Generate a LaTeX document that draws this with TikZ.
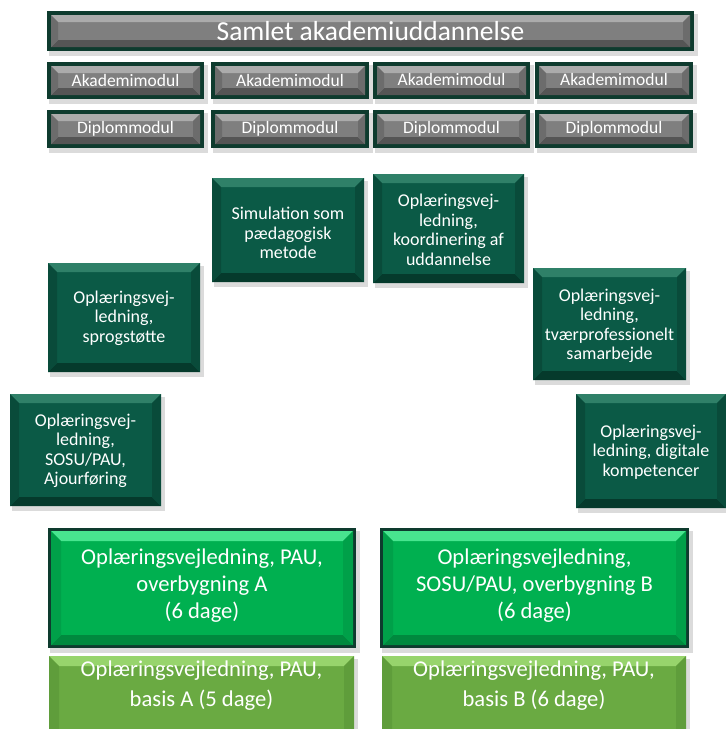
\documentclass[tikz,border=0pt]{standalone}
\usepackage{fontspec}
\setmainfont{Carlito}
\definecolor{frm}{HTML}{0E3B2E}
\definecolor{grmain}{HTML}{7F7F7F}
\definecolor{grlight}{HTML}{ABABAB}
\definecolor{grdark}{HTML}{555555}
\definecolor{grside}{HTML}{6C6C6C}
\definecolor{dgmain}{HTML}{0B5A46}
\definecolor{dglight}{HTML}{2F8068}
\definecolor{dgdark}{HTML}{053A2C}
\definecolor{dgside}{HTML}{094B3A}
\definecolor{bgmain}{HTML}{00B050}
\definecolor{bglight}{HTML}{48E58F}
\definecolor{bgdark}{HTML}{00893E}
\definecolor{bgside}{HTML}{00A049}
\definecolor{lgmain}{HTML}{6AAA42}
\definecolor{lglight}{HTML}{97D46C}
\definecolor{lgdark}{HTML}{4F8A2F}
\definecolor{lgside}{HTML}{5F9D3B}
\def\grbev{7}\def\dgbev{9}\def\bgbev{10}\def\lgbev{10}
\tikzset{
  txt/.style={text=white,align=center,inner sep=0pt},
  ttitle/.style={txt,font=\fontsize{27.5}{30}\selectfont},
  tmod/.style={txt,font=\fontsize{17.5}{20}\selectfont},
  tsmall/.style={txt,font=\fontsize{18}{19.5}\selectfont},
  tbig/.style={txt,font=\fontsize{22.6}{27}\selectfont},
  tbasis/.style={txt,font=\fontsize{22.6}{30}\selectfont},
}
\newcommand\shad[4]{\fill[black,opacity=.14] ({#1+2},{#2+3}) rectangle ({#3+4},{#4+5});}
\newcommand\frameb[5]{\fill[#5] (#1,#2) rectangle (#3,#4);}
\newcommand\bx[9]{%
 \edef\bvw{\csname #6bev\endcsname}%
 \fill[#6main] (#2,#3) rectangle (#4,#5);
 \fill[#6light] (#2,#3) -- (#4,#3) -- ({#4-\bvw},{#3+\bvw}) -- ({#2+\bvw},{#3+\bvw}) -- cycle;
 \fill[#6dark] (#2,#5) -- (#4,#5) -- ({#4-\bvw},{#5-\bvw}) -- ({#2+\bvw},{#5-\bvw}) -- cycle;
 \fill[#6side] (#2,#3) -- ({#2+\bvw},{#3+\bvw}) -- ({#2+\bvw},{#5-\bvw}) -- (#2,#5) -- cycle;
 \fill[#6side] (#4,#3) -- ({#4-\bvw},{#3+\bvw}) -- ({#4-\bvw},{#5-\bvw}) -- (#4,#5) -- cycle;
 \node[#8] (#1) at ({(#2+#4)/2},#7) {#9};
}
% gray framed module box: name, x1, y1, x2, y2, text y, text
\newcommand\gbox[7]{%
 \shad{#2}{#3}{#4}{#5}\frameb{#2}{#3}{#4}{#5}{frm}%
 \bx{#1}{#2+4}{#3+4}{#4-4}{#5-4}{gr}{#6}{tmod}{#7}}
\begin{document}
\begin{tikzpicture}[x=1pt,y=-1pt]
\useasboundingbox (0,0) rectangle (726,729);
% title
\shad{47}{11}{694}{51}\frameb{47}{11}{694}{51}{frm}
\bx{title}{51}{15}{690}{47}{gr}{31}{ttitle}{Samlet akademiuddannelse}
% module rows
\gbox{ak1}{47}{62}{204}{99}{80}{Akademimodul}
\gbox{ak2}{211}{62}{369}{99}{80}{Akademimodul}
\gbox{ak3}{373}{62}{530}{99}{79}{Akademimodul}
\gbox{ak4}{535}{62}{693}{99}{79}{Akademimodul}
\gbox{dp1}{47}{110}{204}{148}{129}{Diplommodul}
\gbox{dp2}{211}{110}{369}{148}{129}{Diplommodul}
\gbox{dp3}{373}{110}{530}{148}{129}{Diplommodul}
\gbox{dp4}{535}{110}{693}{148}{129}{Diplommodul}
% dark green boxes
\shad{212}{178}{364}{282}
\bx{sim}{212}{178}{364}{282}{dg}{233}{tsmall}{Simulation som\\pædagogisk\\metode}
\shad{373}{174}{524}{283}
\bx{koord}{373}{174}{524}{283}{dg}{230}{tsmall}{Oplæringsvej-\\ledning,\\koordinering af\\uddannelse}
\shad{48}{263}{200}{372}
\bx{sprog}{48}{263}{200}{372}{dg}{318}{tsmall}{Oplæringsvej-\\ledning,\\sprogstøtte}
\shad{533}{268}{686}{380}
\bx{tvaer}{533}{268}{686}{380}{dg}{326}{tsmall}{Oplæringsvej-\\ledning,\\tværprofessionelt\\samarbejde}
\shad{10}{394}{161}{506}
\bx{ajour}{10}{394}{161}{506}{dg}{451}{tsmall}{Oplæringsvej-\\ledning,\\SOSU/PAU,\\Ajourføring}
\shad{576}{394}{726}{508}
\bx{digi}{576}{394}{726}{508}{dg}{452}{tsmall}{Oplæringsvej-\\ledning, digitale\\kompetencer}
% bright green boxes
\shad{48}{528}{356}{648}\frameb{48}{528}{356}{648}{frm}
\bx{overA}{51}{531}{353}{645}{bg}{586}{tbig}{Oplæringsvejledning, PAU,\\overbygning A\\(6 dage)}
\shad{380}{528}{689}{648}\frameb{380}{528}{689}{648}{frm}
\bx{overB}{383}{531}{686}{645}{bg}{586}{tbig}{Oplæringsvejledning,\\SOSU/PAU, overbygning B\\(6 dage)}
% light green boxes
\shad{49}{656}{354}{745}
\bx{basA}{49}{656}{354}{745}{lg}{686}{tbasis}{Oplæringsvejledning, PAU,\\basis A (5 dage)}
\shad{382}{656}{686}{745}
\bx{basB}{382}{656}{686}{745}{lg}{686}{tbasis}{Oplæringsvejledning, PAU,\\basis B (6 dage)}
\end{tikzpicture}
\end{document}
